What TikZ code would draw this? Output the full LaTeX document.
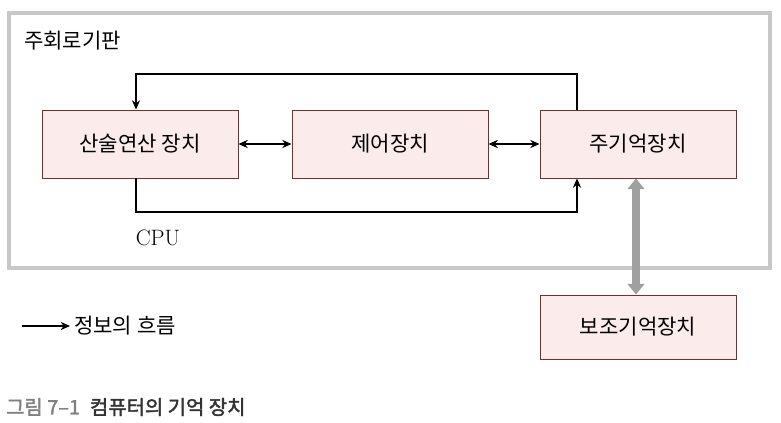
\documentclass[tikz,border=0pt]{standalone}
\usepackage{fontspec}
\newfontfamily\kr{Noto Sans CJK KR}
\newfontfamily\krb{Noto Sans CJK KR}[FakeBold=2]
\usetikzlibrary{arrows.meta}
\definecolor{boxfill}{HTML}{FBEBEA}
\definecolor{boxline}{HTML}{7A2E28}
\definecolor{frame}{HTML}{C8C8C8}
\begin{document}
\begin{tikzpicture}[x=0.03cm,y=-0.03cm,
  unit/.style={draw=boxline,fill=boxfill,line width=0.8pt,minimum width=196*0.03cm,minimum height=68*0.03cm,font=\kr\fontsize{18}{20}\selectfont},
  flow/.style={line width=1.1pt,-{Stealth[length=8pt,width=7pt]}},
  both/.style={line width=1.1pt,{Stealth[length=8pt,width=7pt]}-{Stealth[length=8pt,width=7pt]}}]
\useasboundingbox (0,0) rectangle (781,423);
\draw[frame,line width=3.4pt,fill=white] (9,13) rectangle (770,268);
\node[anchor=west,font=\kr\fontsize{18}{20}\selectfont] (mb) at (20,41) {주회로기판};
\node[unit] (alu) at (140,144) {산술연산 장치};
\node[unit] (cu) at (390,144) {제어장치};
\node[unit] (mem) at (638,144) {주기억장치};
\node[unit,minimum height=64*0.03cm] (aux) at (638,327) {보조기억장치};
\draw[both] (alu) -- (cu);
\draw[both] (cu) -- (mem);
\coordinate (t1) at (577,74); \coordinate (t2) at (136,74);
\coordinate (b1) at (136,212); \coordinate (b2) at (577,212);
\draw[flow] (mem.north -| t1) -- (t1) -- (t2) -- (alu.north -| t2);
\draw[flow] (alu.south -| b1) -- (b1) -- (b2) -- (mem.south -| b2);
\node[font=\fontsize{19}{21}\selectfont] (cpu) at (158,238) {CPU};
\draw[line width=6pt,color=frame!80!black,{Triangle[length=9pt,width=14pt]}-{Triangle[length=9pt,width=14pt]}] (mem.south -| 636,0) -- (aux.north -| 636,0);
\coordinate (l1) at (22,326);
\node[anchor=west,font=\kr\fontsize{18}{20}\selectfont] (leg) at (70,326) {정보의 흐름};
\draw[flow] (l1) -- (leg.west);
\node[anchor=west,font=\krb\fontsize{17}{19}\selectfont] (cap) at (2,407) {\textcolor{gray}{그림 7–1}\hspace{0.5em}\textcolor{black!80}{컴퓨터의 기억 장치}};
\end{tikzpicture}
\end{document}
